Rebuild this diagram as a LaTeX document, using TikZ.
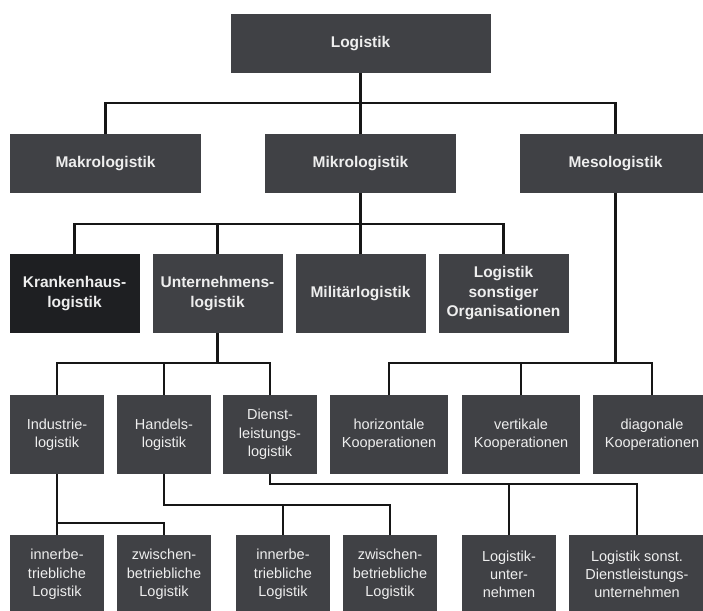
\documentclass[tikz,border=0pt]{standalone}
\usepackage{fontspec}
\setmainfont{Liberation Sans}
\usepackage{xcolor}
\usepackage{tikz}
\usetikzlibrary{positioning}

\definecolor{boxgray}{HTML}{404145}
\definecolor{boxdark}{HTML}{1E1F22}
\definecolor{boxtext}{HTML}{EEEEEE}
\definecolor{linegray}{HTML}{161616}

\begin{document}
\begin{tikzpicture}[
    x = 1pt,
    y = -1pt,
    topbox/.style = {
      rectangle,
      fill=boxgray,
      text=boxtext,
      inner sep=0pt,
      outer sep=0pt,
      align=center,
      font=\fontsize{15.5}{19.5}\selectfont\bfseries
    },
    lowbox/.style = {
      rectangle,
      fill=boxgray,
      text=boxtext,
      inner sep=0pt,
      outer sep=0pt,
      align=center,
      minimum height=79pt,
      font=\fontsize{14.5}{18.3}\selectfont
    },
    conn/.style = {
      draw=linegray,
      line width=2.4pt
    }
  ]
    \clip (0,0) rectangle (703,610);
    \fill[white] (0,0) rectangle (703,610);

    \node[topbox, minimum width=260pt, minimum height=59pt, anchor=north west] (logistik) at (230.5,14) {Logistik};

    \node[topbox, minimum width=191pt, minimum height=59pt, anchor=north west] (makro) at (10,134) {Makrologistik};
    \node[topbox, minimum width=191pt, minimum height=59pt] (mikro) [right=64pt of makro] {Mikrologistik};
    \node[topbox, minimum width=191pt, minimum height=59pt] (meso) [right=64pt of mikro] {Mesologistik};

    \node[topbox, fill=boxdark, minimum width=130pt, minimum height=79pt, anchor=north west] (kranken) at (9.5,254) {Krankenhaus-\\logistik};
    \node[topbox, minimum width=130pt, minimum height=79pt] (unternehmen) [right=13pt of kranken] {Unternehmens-\\logistik};
    \node[topbox, minimum width=130pt, minimum height=79pt] (militaer) [right=13pt of unternehmen] {Militärlogistik};
    \node[topbox, minimum width=130pt, minimum height=79pt] (sonstige) [right=13pt of militaer] {Logistik\\sonstiger\\Organisationen};

    \node[lowbox, minimum width=94pt, anchor=north west] (industrie) at (10,395) {Industrie-\\logistik};
    \node[lowbox, minimum width=94pt] (handel) [right=13pt of industrie] {Handels-\\logistik};
    \node[lowbox, minimum width=94pt] (dienst) [right=12pt of handel] {Dienst-\\leistungs-\\logistik};
    \node[lowbox, minimum width=118pt] (horiz) [right=13pt of dienst] {horizontale\\Kooperationen};
    \node[lowbox, minimum width=118pt] (vert) [right=14pt of horiz] {vertikale\\Kooperationen};
    \node[lowbox, minimum width=118pt] (diag) [right=13pt of vert] {diagonale\\Kooperationen};

    \node[lowbox, minimum width=94pt, anchor=north west] (inner1) at (10,535) {innerbe-\\triebliche\\Logistik};
    \node[lowbox, minimum width=94pt] (zwischen1) [right=13pt of inner1] {zwischen-\\betriebliche\\Logistik};
    \node[lowbox, minimum width=94pt] (inner2) [right=25pt of zwischen1] {innerbe-\\triebliche\\Logistik};
    \node[lowbox, minimum width=94pt] (zwischen2) [right=13pt of inner2] {zwischen-\\betriebliche\\Logistik};
    \node[lowbox, minimum width=94pt] (lunter) [right=25pt of zwischen2] {Logistik-\\unter-\\nehmen};
    \node[lowbox, minimum width=136pt] (lsonst) [right=13pt of lunter] {Logistik sonst.\\Dienstleistungs-\\unternehmen};

    \draw[conn] (logistik.south) -- ++(0,30) -| (makro.north);
    \draw[conn] (logistik.south) -- (mikro.north);
    \draw[conn] (logistik.south) -- ++(0,30) -| (meso.north);

    \foreach \n in {kranken, unternehmen, militaer, sonstige}
      \draw[conn] (mikro.south) -- ++(0,31) -| (\n.north);

    \foreach \n in {horiz, vert, diag}
      \draw[conn] (meso.south) -- ++(0,170) -| (\n.north);

    \foreach \n in {industrie, handel, dienst}
      \draw[conn] (unternehmen.south) -- ++(0,30) -| (\n.north);

    \draw[conn] (industrie.south) -- (inner1.north);
    \draw[conn] (industrie.south) -- ++(0,49) -| (zwischen1.north);
    \draw[conn] (handel.south) -- ++(0,31) -| (inner2.north);
    \draw[conn] (handel.south) -- ++(0,31) -| (zwischen2.north);
    \draw[conn] (dienst.south) -- ++(0,10) -| (lunter.north);
    \draw[conn] (dienst.south) -- ++(0,10) -| (lsonst.north);

  \end{tikzpicture}
\end{document}
